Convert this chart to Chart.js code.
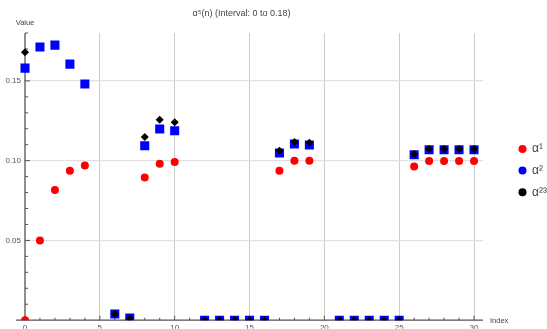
<!DOCTYPE html>
<html>
<head>
<meta charset="utf-8">
<script src="https://cdn.jsdelivr.net/npm/chart.js@4.4.1/dist/chart.umd.min.js"></script>
<style>
html, body { margin: 0; padding: 0; background: #fff; }
#wrap { width: 547px; height: 329px; }
</style>
</head>
<body>
<div id="wrap"><canvas id="chart"></canvas></div>
<script>
// valores (n = 0..30)
const indices = [0, 1, 2, 3, 4, 5, 6, 7, 8, 9, 10, 11, 12, 13, 14, 15, 16, 17, 18, 19, 20, 21, 22, 23, 24, 25, 26, 27, 28, 29, 30];
const alpha1 = [0, 0.050, 0.0816, 0.0937, 0.097, null, null, null, 0.0895, 0.098, 0.0991, null, null, null, null, null, null, 0.0937, 0.0999, 0.1000, null, null, null, null, null, null, 0.0964, 0.0998, 0.0998, 0.0998, 0.0998];
const alpha2 = [0.158, 0.1712, 0.1724, 0.1605, 0.148, null, 0.0039, 0.0014, 0.1093, 0.1198, 0.1187, null, 0, 0, 0, 0, 0, 0.1048, 0.1104, 0.1098, null, 0, 0, 0, 0, 0, 0.1037, 0.1068, 0.1068, 0.1068, 0.1068];
const alpha23 = [0.168, null, null, null, null, null, 0.0039, 0.0014, 0.1148, 0.1256, 0.124, null, 0, 0, 0, 0, 0, 0.1062, 0.1117, 0.1112, null, 0, 0, 0, 0, 0, 0.1041, 0.1073, 0.1073, 0.1073, 0.1073];
const seriesLabels = ['α¹', 'α²', 'α²³'];
const seriesColors = ['#ff0000', '#0000ff', '#000000'];
const titleText = 'α⁵(n) (Interval: 0 to 0.18)';
const xAxisLabel = 'Index';
const yAxisLabel = 'Value';

function toPoints(values) {
    return indices.map((x, i) => ({ x: x, y: values[i] })).filter(p => p.y !== null);
}

const FONT = '"Liberation Sans", Arial, sans-serif';
const bottomClip = { left: false, top: false, right: false, bottom: 0 };

// eixos no estilo Mathematica, rótulos e legenda
const decorations = {
    id: 'decorations',
    beforeDatasetsDraw(chart) {
        const ctx = chart.ctx;
        const xs = chart.scales.x;
        const ys = chart.scales.y;
        const x0 = xs.getPixelForValue(0);
        const y0 = ys.getPixelForValue(0);
        ctx.save();
        ctx.strokeStyle = '#555';
        ctx.lineWidth = 1.3;
        ctx.beginPath();
        ctx.moveTo(16, y0);
        ctx.lineTo(chart.chartArea.right, y0);
        ctx.moveTo(x0, y0);
        ctx.lineTo(x0, chart.chartArea.top);
        ctx.stroke();
        ctx.lineWidth = 1;
        ctx.beginPath();
        for (let i = 0; i <= 30; i++) {
            const px = xs.getPixelForValue(i);
            const len = i % 5 === 0 ? 4.5 : 2.5;
            ctx.moveTo(px, y0);
            ctx.lineTo(px, y0 - len);
        }
        for (let j = 1; j <= 18; j++) {
            const py = ys.getPixelForValue(j / 100);
            const len = j % 5 === 0 ? 5 : 3;
            ctx.moveTo(x0, py);
            ctx.lineTo(x0 + len, py);
        }
        ctx.stroke();
        ctx.restore();
    },
    afterDraw(chart) {
        const ctx = chart.ctx;
        ctx.save();
        ctx.fillStyle = '#444';
        ctx.textBaseline = 'middle';
        ctx.font = '7.5px ' + FONT;
        ctx.textAlign = 'center';
        ctx.fillText(yAxisLabel, 25, 23);
        ctx.textAlign = 'left';
        ctx.fillText(xAxisLabel, 490, 321);

        ctx.font = '12px ' + FONT;
        chart.data.datasets.forEach(function(ds, i) {
            const cy = 149 + i * 21.6;
            ctx.fillStyle = ds.backgroundColor;
            ctx.beginPath();
            ctx.arc(522.5, cy, 4, 0, Math.PI * 2);
            ctx.fill();
            ctx.fillStyle = '#444';
            ctx.fillText(ds.label, 532, cy);
        });
        ctx.restore();
    }
};

new Chart(document.getElementById('chart'), {
    type: 'scatter',
    data: {
        datasets: [
            {
                label: seriesLabels[0],
                data: toPoints(alpha1),
                backgroundColor: seriesColors[0],
                borderWidth: 0,
                pointStyle: 'circle',
                pointRadius: 4,
                order: 3,
                clip: bottomClip
            },
            {
                label: seriesLabels[1],
                data: toPoints(alpha2),
                backgroundColor: seriesColors[1],
                borderWidth: 0,
                pointStyle: 'rect',
                pointRadius: 6.4,
                order: 2,
                clip: bottomClip
            },
            {
                label: seriesLabels[2],
                data: toPoints(alpha23),
                backgroundColor: seriesColors[2],
                borderWidth: 0,
                pointStyle: 'rectRot',
                pointRadius: 4,
                order: 1,
                clip: bottomClip
            }
        ]
    },
    options: {
        responsive: true,
        maintainAspectRatio: false,
        animation: false,
        layout: {
            padding: { left: 0, top: 0, right: 64, bottom: 0 }
        },
        plugins: {
            legend: { display: false },
            tooltip: { enabled: false },
            title: {
                display: true,
                text: titleText,
                color: '#444',
                font: { family: FONT, size: 9, weight: 'normal', lineHeight: 1.2 },
                padding: { top: 8.6, bottom: 13.6 }
            }
        },
        scales: {
            x: {
                type: 'linear',
                min: 0,
                max: 30.6,
                afterFit: function(scale) { scale.height = 8.5; },
                border: { display: false },
                grid: {
                    drawTicks: false,
                    lineWidth: 1,
                    color: ctx => (ctx.tick && ctx.tick.value === 0) ? 'rgba(0,0,0,0)' : '#cccccc'
                },
                ticks: {
                    stepSize: 5,
                    includeBounds: false,
                    maxRotation: 0,
                    padding: 3,
                    color: '#555',
                    font: { family: FONT, size: 8 }
                }
            },
            y: {
                type: 'linear',
                min: 0,
                max: 0.18,
                afterFit: function(scale) { scale.width = 25; },
                border: { display: false },
                grid: {
                    drawTicks: false,
                    lineWidth: 1.3,
                    color: ctx => (ctx.tick && ctx.tick.value === 0) ? 'rgba(0,0,0,0)' : '#e0e0e0'
                },
                ticks: {
                    stepSize: 0.05,
                    includeBounds: false,
                    padding: 4,
                    color: '#555',
                    font: { family: FONT, size: 8 },
                    callback: function(value) {
                        return value === 0 ? '' : value.toFixed(2);
                    }
                }
            }
        }
    },
    plugins: [decorations]
});
</script>
</body>
</html>
